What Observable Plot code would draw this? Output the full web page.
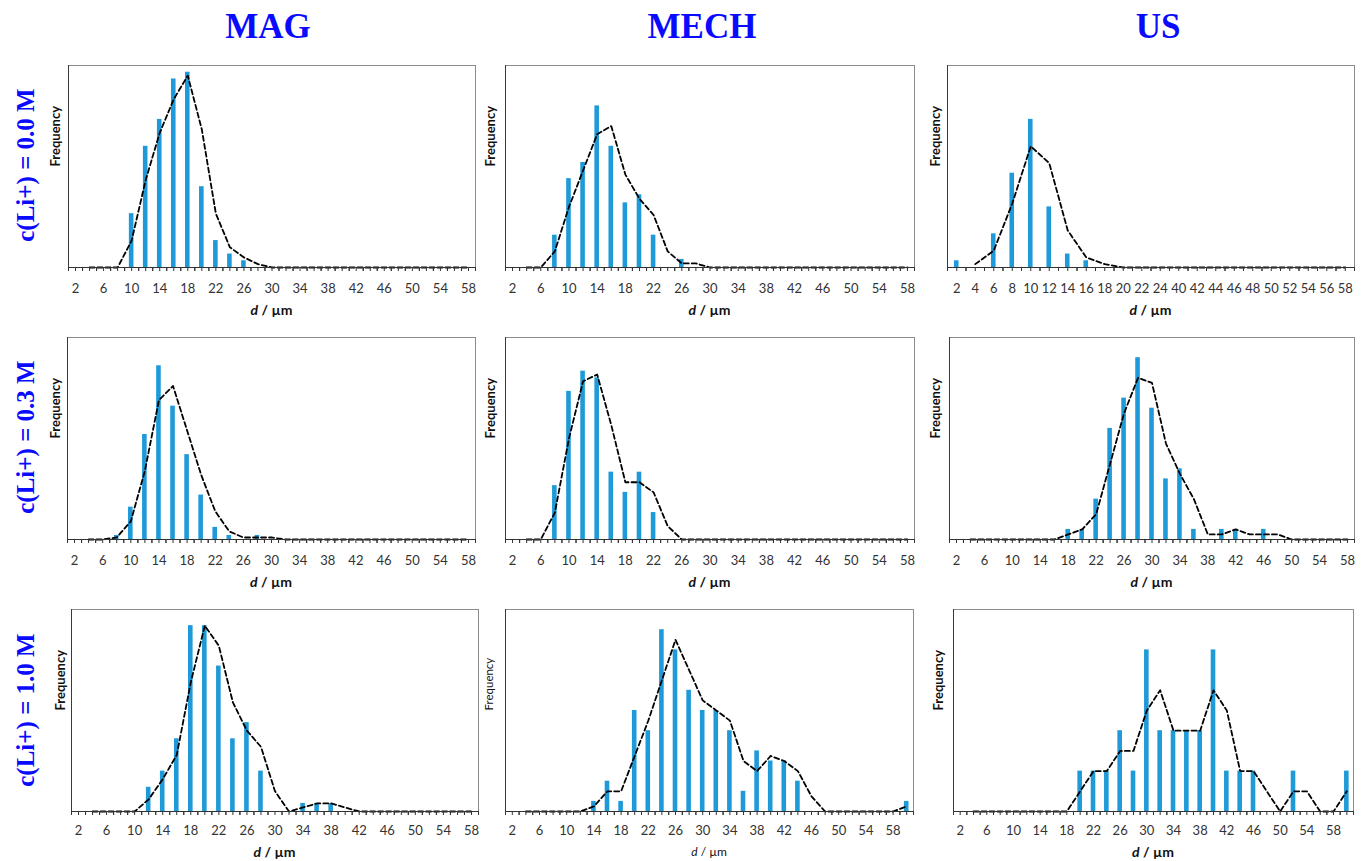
<!DOCTYPE html>
<html><head><meta charset="utf-8">
<script src="https://cdn.jsdelivr.net/npm/d3@7"></script>
<script src="https://cdn.jsdelivr.net/npm/@observablehq/plot@0.6"></script>
<style>
body{margin:0;background:#fff;}
#root{position:relative;width:1368px;height:861px;overflow:hidden;font-family:Lato,sans-serif;background:#fff;}
.coltitle{position:absolute;font-family:"Liberation Serif",serif;font-weight:bold;color:#0a0aff;font-size:35px;line-height:1;white-space:nowrap;transform:translateX(-50%);}
.rowtitle{position:absolute;font-family:"Liberation Serif",serif;font-weight:bold;color:#0a0aff;font-size:25px;line-height:1;white-space:nowrap;transform:translate(-50%,-50%) rotate(-90deg);}
.xlab{position:absolute;font-family:Lato,sans-serif;white-space:nowrap;transform:translate(-50%,-50%);color:#111;line-height:1;}
svg{position:absolute;overflow:visible;}
</style></head><body><div id="root"></div>
<script>
// categories (d / µm)
const catsA = [2,4,6,8,10,12,14,16,18,20,22,24,26,28,30,32,34,36,38,40,42,44,46,48,50,52,54,56,58];
const catsB = [2,4,6,8,10,12,14,16,18,20,22,24,40,42,44,46,48,50,52,54,56,58];
const catsC = [2,4,6,8,10,12,14,16,18,20,22,24,26,28,30,32,34,36,38,40,42,44,46,48,50,52,54,56,58,60];
// tick labels
const ticksA = [2,6,10,14,18,22,26,30,34,38,42,46,50,54,58];
const ticksB = [2,4,6,8,10,12,14,16,18,20,22,24,40,42,44,46,48,50,52,54,56,58];
const ticksC = [2,6,10,14,18,22,26,30,34,38,42,46,50,54,58];

// c(Li+) = 0.0 M
const magCount00 = [0,0,0,0,8,18,22,28,29,12,4,2,1,0,0,0,0,0,0,0,0,0,0,0,0,0,0,0,0];
const magTrend00 = [null,0,0,0,4,13,20,25,28.5,20.5,8,3,1.5,0.5,0,0,0,0,0,0,0,0,0,0,0,0,0,0,0];
const mechCount00 = [0,0,0,4,11,13,20,15,8,9,4,0,1,0,0,0,0,0,0,0,0,0,0,0,0,0,0,0,0];
const mechTrend00 = [null,0,0,2,7.5,12,16.5,17.5,11.5,8.5,6.5,2,0.5,0.5,0,0,0,0,0,0,0,0,0,0,0,0,0,0,0];
const usCount00 = [1,0,5,14,22,9,2,1,0,0,0,0,0,0,0,0,0,0,0,0,0,0];
const usTrend00 = [null,0.5,2.5,9.5,18,15.5,5.5,1.5,0.5,0,0,0,0,0,0,0,0,0,0,0,0,0];
// c(Li+) = 0.3 M
const magCount03 = [0,0,0,1,8,26,43,33,21,11,3,1,0,1,0,0,0,0,0,0,0,0,0,0,0,0,0,0,0];
const magTrend03 = [null,0,0,0.5,4.5,17,34.5,38,27,16,7,2,0.5,0.5,0.5,0,0,0,0,0,0,0,0,0,0,0,0,0,0];
const mechCount03 = [0,0,0,8,22,25,24,10,7,10,4,0,0,0,0,0,0,0,0,0,0,0,0,0,0,0,0,0,0];
const mechTrend03 = [null,0,0,4,15,23.5,24.5,17,8.5,8.5,7,2,0,0,0,0,0,0,0,0,0,0,0,0,0,0,0,0,0];
const usCount03 = [0,0,0,0,0,0,0,0,1,1,4,11,14,18,13,6,7,1,0,1,1,0,1,0,0,0,0,0,0];
const usTrend03 = [null,0,0,0,0,0,0,0,0.5,1,2.5,7.5,12.5,16,15.5,9.5,6.5,4,0.5,0.5,1,0.5,0.5,0.5,0,0,0,0,0];
// c(Li+) = 1.0 M
const magCount10 = [0,0,0,0,0,3,5,9,23,23,18,9,11,5,0,0,1,1,1,0,0,0,0,0,0,0,0,0,0];
const magTrend10 = [null,0,0,0,0,1.5,4,7,16,23,20.5,13.5,10,8,2.5,0,0.5,1,1,0.5,0,0,0,0,0,0,0,0,0];
const mechCount10 = [0,0,0,0,0,0,1,3,1,10,8,18,16,12,10,10,8,2,6,5,5,3,0,0,0,0,0,0,0,1];
const mechTrend10 = [null,0,0,0,0,0,0.5,2,2,5.5,9,13,17,14,11,10,9,5,4,5.5,5,4,1.5,0,0,0,0,0,0,0.5];
const usCount10 = [0,0,0,0,0,0,0,0,0,1,1,1,2,1,4,2,2,2,2,4,1,1,1,0,0,1,0,0,0,1];
const usTrend10 = [null,0,0,0,0,0,0,0,0,0.5,1,1,1.5,1.5,2.5,3,2,2,2,3,2.5,1,1,0.5,0,0.5,0.5,0,0,0.5];

const colTitles = ["MAG", "MECH", "US"];
const rowTitles = ["c(Li+) = 0.0 M", "c(Li+) = 0.3 M", "c(Li+) = 1.0 M"];

const panels = [
  {cats: catsA, ticks: ticksA, count: magCount00, trend: magTrend00, ymax: 30, left: 68, top: 65, w: 407, fdx: -13},
  {cats: catsA, ticks: ticksA, count: mechCount00, trend: mechTrend00, ymax: 25, left: 505, top: 65, w: 409, fdx: -15},
  {cats: catsB, ticks: ticksB, count: usCount00, trend: usTrend00, ymax: 30, left: 947, top: 65, w: 407, fdx: -12},
  {cats: catsA, ticks: ticksA, count: magCount03, trend: magTrend03, ymax: 50, left: 67, top: 337, w: 408, fdx: -12},
  {cats: catsA, ticks: ticksA, count: mechCount03, trend: mechTrend03, ymax: 30, left: 505, top: 337, w: 409, fdx: -15},
  {cats: catsA, ticks: ticksA, count: usCount03, trend: usTrend03, ymax: 20, left: 949, top: 337, w: 405, fdx: -14},
  {cats: catsA, ticks: ticksA, count: magCount10, trend: magTrend10, ymax: 25, left: 71, top: 609, w: 407, fdx: -11},
  {cats: catsC, ticks: ticksC, count: mechCount10, trend: mechTrend10, ymax: 20, left: 505, top: 609, w: 408, fdx: -16, light: true},
  {cats: catsC, ticks: ticksC, count: usCount10, trend: usTrend10, ymax: 5, left: 953, top: 609, w: 400, fdx: -15}
];

const root = document.getElementById("root");
const H = 202, ML = 34, MR = 6, MT = 4, MB = 34;

panels.forEach((p, k) => {
  const n = p.cats.length;
  const step = p.w / n;
  const pad = 1 - 4.6 / step;
  const rows = p.cats.map((d, i) => ({d, n: p.count[i], m: p.trend[i]}));
  const row = Math.floor(k / 3);
  const svg = Plot.plot({
    width: p.w + ML + MR,
    height: H + MT + MB,
    marginLeft: ML, marginRight: MR, marginTop: MT, marginBottom: MB,
    style: {background: "transparent", overflow: "visible"},
    x: {type: "band", domain: p.cats, paddingInner: pad, paddingOuter: pad / 2, round: false},
    y: {domain: [0, p.ymax], axis: null},
    marks: [
      Plot.frame({stroke: "#8c8c8c", strokeWidth: 1}),
      Plot.frame({anchor: "left", stroke: "#3a3a3a", strokeWidth: 1}),
      Plot.barY(rows, {x: "d", y: "n", fill: "#1f9ad8"}),
      Plot.line(rows, {x: "d", y: "m", stroke: "#000", strokeWidth: 1.8, strokeDasharray: "5,3"}),
      Plot.ruleY([0], {stroke: "#333", strokeWidth: 1}),
      Plot.axisX({ticks: p.cats, tickSize: 4, tickFormat: () => "", label: null, stroke: "#333"}),
      Plot.axisX({ticks: p.cats, tickSize: 4, tickFormat: () => "", label: null, stroke: "#333", dx: -step / 2}),
      Plot.axisX({ticks: p.cats, tickSize: 4, tickFormat: () => "", label: null, stroke: "#333", dx: step / 2}),
      Plot.axisX({ticks: p.ticks, tickSize: 0, tickPadding: row === 2 ? 14 : 16, label: null, fontSize: 13, fill: "#333", fontFamily: "Lato"}),
      Plot.text(["Frequency"], {frameAnchor: "left", rotate: -90, dx: p.fdx, fontWeight: p.light ? "normal" : "bold", fontSize: p.light ? 11.5 : 13, fill: "#111", fontFamily: "Lato"})
    ]
  });
  svg.style.left = (p.left - ML) + "px";
  svg.style.top = (p.top - MT) + "px";
  root.appendChild(svg);

  const lab = document.createElement("div");
  lab.className = "xlab";
  lab.innerHTML = "<i>d</i> / µm";
  lab.style.left = (p.left + p.w / 2) + "px";
  lab.style.top = (p.top + H + (row === 2 ? 41 : 43)) + "px";
  lab.style.fontSize = p.light ? "12px" : "14px";
  lab.style.fontWeight = p.light ? "normal" : "bold";
  root.appendChild(lab);
});

const colX = [268, 702, 1158];
colTitles.forEach((t, i) => {
  const el = document.createElement("div");
  el.className = "coltitle";
  el.textContent = t;
  el.style.left = colX[i] + "px";
  el.style.top = "9px";
  root.appendChild(el);
});
const rowY = [165, 437, 710];
rowTitles.forEach((t, i) => {
  const el = document.createElement("div");
  el.className = "rowtitle";
  el.textContent = t;
  el.style.left = "25px";
  el.style.top = rowY[i] + "px";
  root.appendChild(el);
});
</script></body></html>
